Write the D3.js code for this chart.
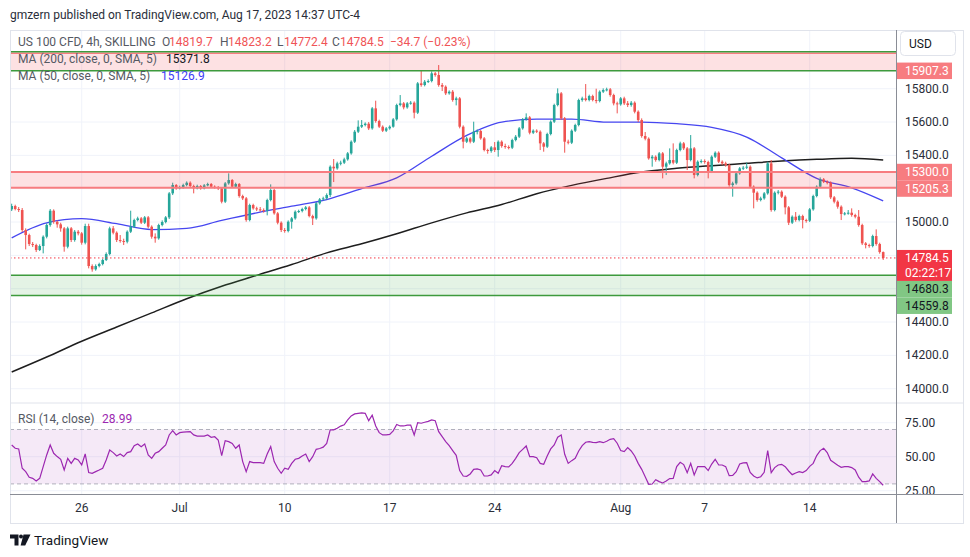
<!DOCTYPE html>
<html lang="en">
<head>
<meta charset="UTF-8">
<title>US 100 CFD, 4h</title>
<script src="https://d3js.org/d3.v7.min.js"></script>
<style>
  body { margin: 0; background: #fff; overflow: hidden; }
  svg text { font-family: Roboto, "Noto Sans", sans-serif; }
</style>
</head>
<body>
<svg id="chart" width="970" height="557"></svg>
<script>
// ---- data (4h bars, index 0 = first visible bar) ----
const firstOpen = 15076;
const closes = [
  15096,15078,15072,14952,14922,14868,14862,14832,14856,14912,
  14982,15068,15002,14986,14962,14852,14962,14892,14942,14932,
  14876,14976,14736,14716,14736,14748,14772,14808,14962,14936,
  14892,14886,14882,14942,14972,15012,15022,14996,15028,14972,
  14912,14902,14982,15000,15028,15172,15222,15202,15208,15222,
  15236,15216,15202,15216,15202,15220,15228,15212,15208,15202,
  15122,15232,15252,15212,15228,15156,15142,15012,15102,15082,
  15076,15072,15068,15132,15192,15052,14996,14952,14946,15002,
  15022,15062,15066,15078,15088,15036,15022,15112,15136,15142,
  15162,15332,15322,15352,15356,15376,15412,15482,15542,15572,
  15582,15590,15562,15682,15606,15572,15548,15562,15572,15616,
  15702,15712,15688,15712,15716,15656,15832,15822,15842,15846,
  15892,15882,15822,15812,15772,15782,15732,15742,15572,15482,
  15502,15482,15542,15546,15502,15432,15426,15448,15432,15482,
  15456,15450,15446,15492,15512,15562,15616,15628,15536,15548,
  15542,15472,15452,15528,15602,15702,15772,15622,15482,15476,
  15548,15582,15732,15742,15732,15756,15732,15726,15782,15792,
  15796,15762,15712,15706,15742,15712,15702,15716,15662,15612,
  15516,15500,15382,15392,15372,15412,15332,15352,15372,15356,
  15432,15472,15442,15372,15442,15282,15362,15366,15360,15302,
  15392,15416,15362,15352,15342,15222,15232,15292,15322,15326,
  15332,15212,15176,15132,15142,15172,15352,15072,15176,15182,
  15152,15088,14996,15032,15012,15036,15012,15008,15076,15156,
  15212,15256,15242,15236,15148,15122,15092,15048,15052,15056,
  15042,15032,14982,14872,14862,14856,14916,14868,14819.7,14784.5
];
const highs = [
  15110,15104,15090,15084,14962,14930,14880,14870,14866,14920,
  14992,15078,15076,15010,14996,14970,14972,14970,14952,14952,
  14940,14990,14990,14746,14746,14756,14780,14818,14972,14976,
  14944,14922,14900,14950,15068,15020,15032,15030,15036,15036,
  14980,14932,14990,15010,15036,15180,15236,15228,15218,15230,
  15244,15244,15224,15224,15222,15228,15236,15234,15220,15216,
  15210,15240,15292,15258,15236,15234,15164,15150,15110,15110,
  15092,15090,15082,15140,15226,15200,15060,15004,14964,15010,
  15030,15070,15074,15086,15096,15096,15044,15120,15144,15152,
  15172,15340,15378,15362,15368,15386,15420,15490,15552,15610,
  15612,15598,15600,15690,15728,15614,15580,15570,15580,15624,
  15710,15762,15720,15720,15726,15724,15840,15912,15852,15856,
  15904,15900,15942,15834,15820,15790,15792,15752,15750,15580,
  15512,15510,15602,15556,15552,15510,15440,15456,15480,15490,
  15490,15470,15460,15500,15522,15570,15624,15652,15636,15556,
  15556,15550,15480,15536,15610,15710,15802,15780,15630,15494,
  15556,15590,15740,15752,15828,15764,15764,15800,15790,15802,
  15806,15804,15770,15722,15750,15752,15726,15726,15724,15670,
  15622,15540,15508,15402,15400,15420,15420,15362,15442,15472,
  15440,15482,15480,15450,15522,15450,15370,15376,15376,15368,
  15400,15424,15424,15370,15362,15350,15242,15300,15330,15336,
  15356,15340,15220,15184,15152,15180,15362,15372,15184,15192,
  15190,15160,15096,15040,15060,15044,15044,15020,15084,15164,
  15220,15268,15264,15250,15244,15156,15130,15100,15060,15072,
  15082,15050,15072,14990,14880,14870,14924,14956,14876,14823.2
];
const lows = [
  15066,15070,15060,14940,14836,14856,14850,14820,14826,14812,
  14902,14972,14990,14966,14942,14822,14842,14880,14882,14920,
  14864,14866,14722,14702,14708,14728,14740,14766,14800,14926,
  14880,14876,14862,14872,14934,14964,15004,14988,14988,14962,
  14900,14876,14894,14974,14992,15018,15162,15194,15196,15200,
  15214,15208,15172,15196,15194,15196,15214,15206,15200,15192,
  15112,15114,15224,15204,15206,15146,15132,15002,15004,15074,
  15066,15062,15056,15040,15124,15044,14986,14940,14936,14938,
  14960,15014,15054,15058,15070,15028,14982,15014,15104,15128,
  15134,15150,15240,15314,15340,15348,15368,15404,15474,15534,
  15564,15574,15552,15554,15596,15564,15540,15540,15554,15566,
  15608,15694,15676,15680,15704,15622,15648,15812,15814,15834,
  15838,15872,15812,15786,15762,15764,15722,15700,15562,15442,
  15474,15472,15474,15526,15494,15424,15410,15416,15420,15392,
  15446,15440,15436,15438,15484,15504,15554,15608,15526,15528,
  15534,15432,15422,15444,15520,15594,15694,15612,15416,15466,
  15468,15540,15574,15722,15724,15724,15724,15712,15718,15774,
  15784,15752,15700,15652,15698,15702,15690,15692,15652,15600,
  15506,15490,15374,15332,15362,15364,15262,15282,15344,15346,
  15348,15424,15432,15312,15364,15262,15274,15352,15350,15262,
  15294,15384,15354,15342,15332,15212,15152,15224,15284,15312,
  15318,15204,15082,15122,15124,15134,15164,15062,15064,15166,
  15144,15046,14982,14988,15002,15004,14962,14996,15000,15068,
  15148,15204,15234,15226,15138,15112,15080,15012,15040,15044,
  15032,15022,14972,14862,14842,14846,14848,14858,14810,14772.4
];
const rsi = [
  58.6,56.2,55.7,41.5,39.0,34.9,34.1,32.2,34.1,42.7,
  51.3,58.6,52.5,50.1,48.1,40.3,48.8,45.1,48.8,47.6,
  44.0,52.0,38.3,37.8,39.0,40.2,41.5,47.6,54.9,53.0,
  50.5,52.0,50.1,53.0,53.7,58.1,59.4,57.4,59.4,51.3,
  48.8,52.5,53.7,56.2,58.6,66.0,69.2,66.0,67.7,68.0,
  68.2,68.4,66.0,65.2,65.2,65.2,66.0,64.3,64.7,62.3,
  50.8,61.8,61.1,59.8,56.2,58.6,46.4,39.0,46.4,45.6,
  45.6,45.6,45.1,52.0,57.4,46.4,41.5,37.8,41.5,40.7,
  45.1,48.1,48.8,50.5,52.0,46.4,50.0,55.4,56.0,57.0,
  59.8,69.7,69.7,70.9,72.5,73.5,77.0,80.0,81.5,81.9,
  82.2,81.9,76.5,80.5,72.6,67.7,66.0,66.0,66.4,69.0,
  73.7,72.6,72.6,73.2,73.3,66.0,75.0,74.6,75.3,76.0,
  77.0,76.5,68.4,64.7,61.1,58.1,54.5,51.0,39.8,35.8,
  35.6,37.3,40.7,41.0,40.3,35.8,35.8,36.6,39.8,37.8,
  43.4,42.7,42.5,45.1,48.8,53.0,55.4,57.9,50.1,50.1,
  49.3,45.1,44.4,50.5,55.7,58.6,64.3,66.0,51.8,45.1,
  47.1,48.8,54.2,58.1,60.6,61.1,60.6,60.3,61.1,60.3,
  61.3,62.8,63.3,59.9,54.5,53.7,56.7,54.2,50.5,45.1,
  40.7,35.3,29.7,29.9,33.1,31.7,30.7,32.2,33.9,34.1,
  42.7,45.9,44.2,38.3,45.1,36.6,42.7,42.7,42.7,39.8,
  44.6,48.1,43.9,43.9,42.7,36.1,36.3,39.0,44.6,45.4,
  45.6,38.5,35.8,34.4,35.3,38.5,54.5,38.3,42.0,43.9,
  44.4,42.7,39.5,36.8,38.0,39.0,38.3,39.8,42.9,45.1,
  50.8,54.5,56.2,53.0,47.4,45.6,43.7,42.2,42.7,42.7,
  42.0,40.3,34.9,31.7,31.7,32.2,37.3,34.1,31.7,28.99
];
// moving averages sampled every 10 bars
const maIdx = [0,10,20,30,40,50,60,70,80,90,100,110,120,130,140,150,160,170,180,190,200,210,220,230,240,249];
const ma50 = [14905,14995,15020,14990,14955,14962,15010,15055,15095,15135,15200,15265,15395,15520,15600,15617,15618,15600,15600,15590,15568,15510,15385,15262,15205,15126.9];
const ma200 = [14100,14190,14285,14370,14455,14540,14615,14680,14745,14815,14870,14930,14995,15055,15105,15170,15220,15262,15300,15322,15338,15352,15366,15376,15382,15371.8];

const timeTickIdx = [20, 48, 78, 108, 138, 174, 198, 228];
const timeTickLabels = ["26", "Jul", "10", "17", "24", "Aug", "7", "14"];
const priceTicks = [14000, 14200, 14400, 14600, 14800, 15000, 15200, 15400, 15600, 15800];
const rsiTicks = [75, 50, 25];
const topZone = [16022, 16012, 15907.3];
const redZone = [15300, 15205.3];
const greenZone = [14680.3, 14559.8];
const lastPrice = 14784.5;
const countdown = "02:22:17";

// ---- layout ----
const L = 10, R = 896, FR = 963, TOP = 30, PB = 403, RB = 494, FB = 523;
const up = "#26a69a", down = "#ef5350";

const svg = d3.select("#chart");
const x = d3.scaleLinear().domain([0, 249]).range([11.7, 883.2]);
const y = d3.scaleLinear().domain([14000, 15800]).range([388.7, 88.7]);
const yr = d3.scaleLinear().domain([25, 75]).range([490.7, 422.7]);
const opens = closes.map((c, i) => i === 0 ? firstOpen : closes[i - 1]);

const defs = svg.append("defs");
defs.append("clipPath").attr("id", "clipP").append("rect")
  .attr("x", L).attr("y", TOP).attr("width", R - L).attr("height", PB - TOP);
defs.append("clipPath").attr("id", "clipR").append("rect")
  .attr("x", L).attr("y", PB).attr("width", R - L).attr("height", RB - PB);
defs.append("clipPath").attr("id", "clipAx").append("rect")
  .attr("x", R).attr("y", PB).attr("width", FR - R).attr("height", RB - PB);

// header
svg.append("text").attr("x", 10).attr("y", 15).attr("dominant-baseline", "central")
  .attr("font-size", 12).attr("fill", "#2a2e39")
  .text("gmzern published on TradingView.com, Aug 17, 2023 14:37 UTC-4");

// grid
const grid = svg.append("g").attr("stroke", "#f0f3fa").attr("stroke-width", 1);
grid.selectAll(".v").data(timeTickIdx).join("line")
  .attr("x1", d => x(d)).attr("x2", d => x(d)).attr("y1", TOP).attr("y2", RB);
grid.selectAll(".h").data(priceTicks).join("line")
  .attr("x1", L).attr("x2", R).attr("y1", d => y(d)).attr("y2", d => y(d));
grid.selectAll(".r").data(rsiTicks).join("line")
  .attr("x1", L).attr("x2", R).attr("y1", d => yr(d)).attr("y2", d => yr(d));

// price pane
const pane = svg.append("g").attr("clip-path", "url(#clipP)");

const maLine = d3.line().x(d => x(d[0])).y(d => y(d[1])).curve(d3.curveMonotoneX);
pane.append("path").datum(maIdx.map((d, i) => [d, ma200[i]]))
  .attr("d", maLine).attr("fill", "none").attr("stroke", "#1e1e1e").attr("stroke-width", 1.5);
pane.append("path").datum(maIdx.map((d, i) => [d, ma50[i]]))
  .attr("d", maLine).attr("fill", "none").attr("stroke", "#4646f0").attr("stroke-width", 1.3);

const candles = pane.append("g").selectAll("g").data(closes).join("g");
candles.append("line")
  .attr("x1", (d, i) => x(i)).attr("x2", (d, i) => x(i))
  .attr("y1", (d, i) => y(highs[i])).attr("y2", (d, i) => y(lows[i]))
  .attr("stroke", (d, i) => d >= opens[i] ? up : down).attr("stroke-width", 1);
candles.append("rect")
  .attr("x", (d, i) => x(i) - 1.3).attr("width", 2.6)
  .attr("y", (d, i) => y(Math.max(d, opens[i])))
  .attr("height", (d, i) => Math.max(1, Math.abs(y(d) - y(opens[i]))))
  .attr("fill", (d, i) => d >= opens[i] ? up : down);

// zones
pane.append("rect").attr("x", L).attr("width", R - L)
  .attr("y", y(topZone[1])).attr("height", y(topZone[2]) - y(topZone[1]))
  .attr("fill", "rgba(242,54,69,0.15)");
pane.append("line").attr("x1", L).attr("x2", R).attr("y1", y(topZone[1])).attr("y2", y(topZone[1]))
  .attr("stroke", "#f77c80").attr("stroke-width", 1.5);
[topZone[0], topZone[2]].forEach(v => pane.append("line").attr("x1", L).attr("x2", R)
  .attr("y1", y(v)).attr("y2", y(v)).attr("stroke", "#3d9a3d").attr("stroke-width", 1.5));

pane.append("rect").attr("x", L).attr("width", R - L)
  .attr("y", y(redZone[0])).attr("height", y(redZone[1]) - y(redZone[0]))
  .attr("fill", "rgba(242,54,69,0.15)");
redZone.forEach(v => pane.append("line").attr("x1", L).attr("x2", R)
  .attr("y1", y(v)).attr("y2", y(v)).attr("stroke", "#f77c80").attr("stroke-width", 2));

pane.append("rect").attr("x", L).attr("width", R - L)
  .attr("y", y(greenZone[0])).attr("height", y(greenZone[1]) - y(greenZone[0]))
  .attr("fill", "rgba(76,175,80,0.15)");
greenZone.forEach(v => pane.append("line").attr("x1", L).attr("x2", R)
  .attr("y1", y(v)).attr("y2", y(v)).attr("stroke", "#3d9a3d").attr("stroke-width", 1.5));

pane.append("line").attr("x1", L).attr("x2", R).attr("y1", y(lastPrice)).attr("y2", y(lastPrice))
  .attr("stroke", "#f23645").attr("stroke-width", 1).attr("stroke-dasharray", "1.5,2.5");

// rsi pane
const rp = svg.append("g").attr("clip-path", "url(#clipR)");
rp.append("rect").attr("x", L).attr("width", R - L)
  .attr("y", yr(70)).attr("height", yr(30) - yr(70)).attr("fill", "rgba(156,39,176,0.1)");
[70, 30].forEach(v => rp.append("line").attr("x1", L).attr("x2", R)
  .attr("y1", yr(v)).attr("y2", yr(v)).attr("stroke", "#b0b0bc").attr("stroke-dasharray", "4,3"));
rp.append("path").datum(rsi)
  .attr("d", d3.line().x((d, i) => x(i)).y(d => yr(d)))
  .attr("fill", "none").attr("stroke", "#9c27b0").attr("stroke-width", 1.2);

// frame and separators
svg.append("rect").attr("x", L + 0.5).attr("y", TOP + 0.5).attr("width", FR - L).attr("height", FB - TOP)
  .attr("fill", "none").attr("stroke", "#e0e3eb");
svg.append("line").attr("x1", L).attr("x2", FR).attr("y1", PB).attr("y2", PB).attr("stroke", "#e0e3eb");
svg.append("line").attr("x1", L).attr("x2", FR).attr("y1", RB + 0.5).attr("y2", RB + 0.5).attr("stroke", "#8a8d96");
svg.append("line").attr("x1", R + 0.5).attr("x2", R + 0.5).attr("y1", TOP).attr("y2", FB).attr("stroke", "#8a8d96");

// legends
function seg(g, parts, yy) {
  parts.forEach(p => g.append("text").attr("x", p[0]).attr("y", yy).attr("dominant-baseline", "central")
    .attr("font-size", 12).attr("fill", p[2]).text(p[1]));
}
const leg = svg.append("g");
const gray = "#555963", red = "#f05456";
seg(leg, [[18, "US 100 CFD, 4h, SKILLING", gray], [162, "O", gray], [169, "14819.7", red],
  [220, "H", gray], [228, "14823.2", red], [277, "L", gray], [284, "14772.4", red],
  [332, "C", gray], [340, "14784.5", red], [390, "\u221234.7 (\u22120.23%)", red]], 42);
seg(leg, [[18, "MA (200, close, 0, SMA, 5)", gray], [166, ma200[ma200.length - 1].toFixed(1), "#131722"]], 59);
seg(leg, [[18, "MA (50, close, 0, SMA, 5)", gray], [161, ma50[ma50.length - 1].toFixed(1), "#3c3cf5"]], 76);
seg(leg, [[18, "RSI (14, close)", gray], [102, rsi[rsi.length - 1].toFixed(2), "#9c27b0"]], 419);

// right axis labels
const boxes = [
  {v: topZone[2], fill: "#f77c80", tc: "#fff"},
  {v: redZone[0], fill: "#f77c80", tc: "#fff"},
  {v: redZone[1], fill: "#f77c80", tc: "#fff"},
  {v: lastPrice, fill: "#f23645", tc: "#fff", h: 31, top: 8},
  {v: greenZone[0], fill: "#81c784", tc: "#131722"},
  {v: greenZone[1], fill: "#81c784", tc: "#131722"}
];
let lastBottom = -1e9;
boxes.sort((a, b) => y(a.v) - y(b.v)).forEach(b => {
  const h = b.h || 16.5, off = b.top || 8.25;
  b.y0 = Math.max(y(b.v) - off, lastBottom);
  b.hh = h;
  lastBottom = b.y0 + h;
});
const ax = svg.append("g");
priceTicks.filter(t => !boxes.some(b => Math.abs(y(t) - (b.y0 + 8)) < 13 || (y(t) > b.y0 && y(t) < b.y0 + b.hh)))
  .forEach(t => ax.append("text").attr("x", 905).attr("y", y(t)).attr("dominant-baseline", "central")
    .attr("font-size", 12).attr("fill", "#2a2e39").text(t.toFixed(1)));
const axR = svg.append("g").attr("clip-path", "url(#clipAx)");
rsiTicks.forEach(t => axR.append("text").attr("x", 905).attr("y", yr(t)).attr("dominant-baseline", "central")
  .attr("font-size", 12).attr("fill", "#2a2e39").text(t.toFixed(2)));
boxes.forEach(b => {
  ax.append("rect").attr("x", R + 1).attr("y", b.y0).attr("width", 55).attr("height", b.hh).attr("fill", b.fill);
  ax.append("text").attr("x", 905).attr("y", b.y0 + 8.25).attr("dominant-baseline", "central")
    .attr("font-size", 12).attr("fill", b.tc).text(b.v.toFixed(1));
  if (b.v === lastPrice) ax.append("text").attr("x", 905).attr("y", b.y0 + 23)
    .attr("dominant-baseline", "central").attr("font-size", 12).attr("fill", "#fff").text(countdown);
});

// USD button
svg.append("rect").attr("x", 900.5).attr("y", 31.5).attr("width", 55).attr("height", 24).attr("rx", 4)
  .attr("fill", "#fff").attr("stroke", "#e0e3eb");
svg.append("text").attr("x", 909).attr("y", 44).attr("dominant-baseline", "central")
  .attr("font-size", 12).attr("fill", "#131722").text("USD");

// time axis
svg.append("g").selectAll("text").data(timeTickIdx).join("text")
  .attr("x", d => x(d)).attr("y", 508).attr("text-anchor", "middle").attr("dominant-baseline", "central")
  .attr("font-size", 12).attr("fill", "#2a2e39").text((d, i) => timeTickLabels[i]);

// footer logo
const logo = svg.append("g").attr("fill", "#131722");
logo.append("path").attr("d", "M10,534.5h8.5v11h-4v-7h-4.5z");
logo.append("circle").attr("cx", 21).attr("cy", 536.5).attr("r", 2);
logo.append("path").attr("d", "M23.5,534.5h7l-5.3,11h-4.6z");
svg.append("text").attr("x", 34).attr("y", 540).attr("dominant-baseline", "central")
  .attr("font-size", 13.5).attr("fill", "#131722").text("TradingView");
</script>
</body>
</html>
